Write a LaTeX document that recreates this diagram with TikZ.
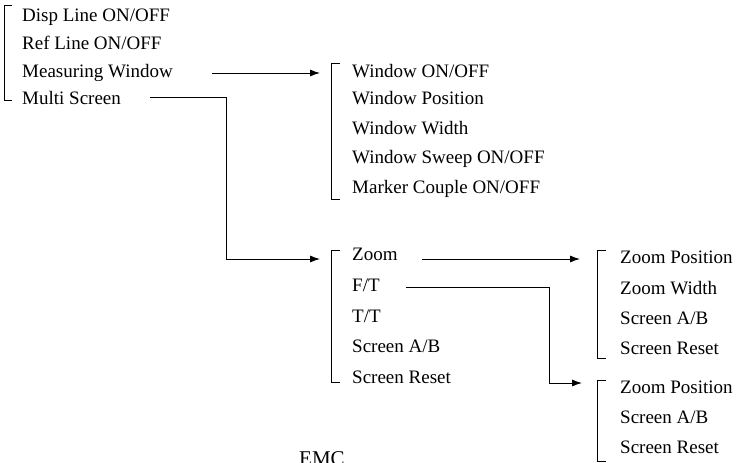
\documentclass[tikz,border=0pt]{standalone}
\usepackage{fontspec}
\setmainfont{Liberation Serif}
\usetikzlibrary{arrows.meta}
\begin{document}
\begin{tikzpicture}[x=1pt,y=-1pt,
  item/.style={anchor=base west,inner sep=0pt,font=\fontsize{19}{21}\selectfont},
  brk/.style={line width=0.9pt},
  conn/.style={line width=0.85pt,-{Latex[length=10pt,width=7pt]}}]
\useasboundingbox (0,0) rectangle (747,463);
% group 1
\node[item] (g1a) at (22,21) {Disp Line ON/OFF};
\node[item] (g1b) at (22,49) {Ref Line ON/OFF};
\node[item] (g1c) at (22,77) {Measuring Window};
\node[item] (g1d) at (22,104) {Multi Screen};
\draw[brk] (12,5) -- (4,5) -- (4,100) -- (12,100);
% group 2
\node[item] (g2a) at (352,77) {Window ON/OFF};
\node[item] (g2b) at (352,104) {Window Position};
\node[item] (g2c) at (352,134) {Window Width};
\node[item] (g2d) at (352,163) {Window Sweep ON/OFF};
\node[item] (g2e) at (352,193) {Marker Couple ON/OFF};
\draw[brk] (340,63) -- (331,63) -- (331,199) -- (340,199);
% group 3
\node[item] (g3a) at (352,260) {Zoom};
\node[item] (g3b) at (352,291) {F/T};
\node[item] (g3c) at (352,322) {T/T};
\node[item] (g3d) at (352,352) {Screen A/B};
\node[item] (g3e) at (352,383) {Screen Reset};
\draw[brk] (340,250) -- (331,250) -- (331,382) -- (340,382);
% group 4
\node[item] (g4a) at (620,263) {Zoom Position};
\node[item] (g4b) at (620,294) {Zoom Width};
\node[item] (g4c) at (620,324) {Screen A/B};
\node[item] (g4d) at (620,354) {Screen Reset};
\draw[brk] (606,250) -- (597,250) -- (597,358) -- (606,358);
% group 5
\node[item] (g5a) at (620,393) {Zoom Position};
\node[item] (g5b) at (620,423) {Screen A/B};
\node[item] (g5c) at (620,453) {Screen Reset};
\draw[brk] (606,380) -- (597,380) -- (597,461) -- (606,461);
% EMC (cut off by the lower edge, as in the original)
\node[item,font=\fontsize{21}{23}\selectfont] (emc) at (299,465) {EMC};
% connector end points
\coordinate (s1) at (212,73);
\coordinate (t1) at (320,73);
\coordinate (s2) at (150,97);
\coordinate (t2) at (320,259);
\coordinate (s3) at (422,259);
\coordinate (t3) at (580,259);
\coordinate (s4) at (406,287);
\coordinate (t4) at (582,383);
\draw[conn] (s1) -- (t1);
\draw[conn] (s2) -| (226,259) -- (t2);
\draw[conn] (s3) -- (t3);
\draw[conn] (s4) -| (549,383) -- (t4);
\end{tikzpicture}
\end{document}
